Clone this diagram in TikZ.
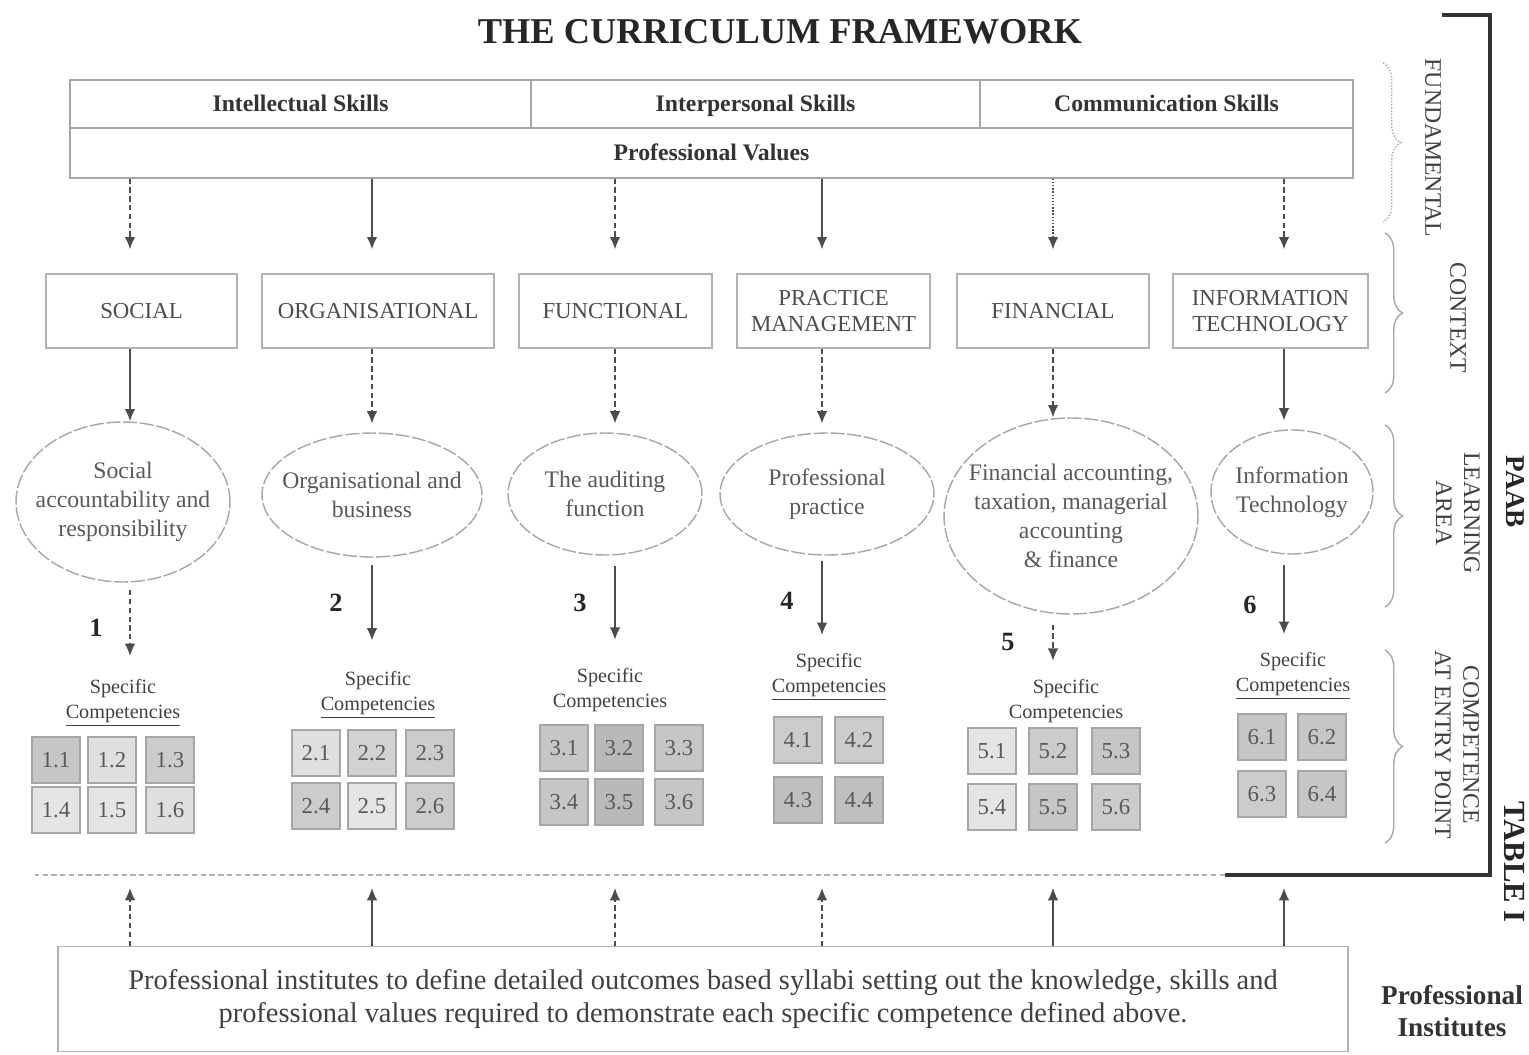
\documentclass[tikz,border=0pt]{standalone}
\usepackage{fontspec}
\setmainfont{Liberation Serif}
\usetikzlibrary{positioning,shapes.geometric,arrows.meta,decorations.pathreplacing}

\begin{document}
\begin{tikzpicture}[
    x=0.02cm, y=-0.02cm,
    >={Latex[length=7pt,width=6pt]},
    skill/.style={draw=gray!70, line width=0.8pt, minimum height=0.96cm, text height=2.2ex, text depth=0.4ex, text=black!80, font=\fontsize{13.5}{16}\selectfont\bfseries},
    ctx/.style={draw=gray!60, line width=0.8pt, minimum height=1.48cm, align=center, text=black!70, font=\fontsize{13}{15}\selectfont},
    area/.style={ellipse, draw=gray!70, line width=0.8pt, dash pattern=on 8pt off 1.5pt, inner sep=0pt},
    areatext/.style={align=center, text=black!65, font=\fontsize{13.5}{16.5}\selectfont},
    spec/.style={align=center, text=black!75, font=\fontsize{11.5}{14}\selectfont},
    comp/.style={draw=gray!70, line width=0.7pt, minimum width=0.96cm, minimum height=0.92cm, inner sep=0pt, text=black!65, font=\fontsize{13}{15}\selectfont},
    num/.style={text=black!85, font=\fontsize{15}{18}\selectfont\bfseries},
    arr/.style={->, draw=black!70, line width=0.8pt},
    side/.style={rotate=-90, align=center, text=black!75, font=\fontsize{13.5}{16}\selectfont},
    sidebrace/.style={draw=gray!70, line width=0.8pt, decorate, decoration={brace, amplitude=0.35cm}}
]
\useasboundingbox (0,0) rectangle (1529,1055);

% Titre
\node[text=black!85, font=\fontsize{20.7}{24}\selectfont\bfseries] (title) at (780,32) {THE CURRICULUM FRAMEWORK};

% Fundamental
\node[skill, minimum width=9.22cm] (intel) at (300.5,104) {Intellectual Skills};
\node[skill, minimum width=8.98cm] (inter) at (755.5,104) {Interpersonal Skills};
\node[skill, minimum width=7.46cm] (comm) at (1166.5,104) {Communication Skills};
\node[skill, minimum width=25.66cm, minimum height=1cm] (values) at (711.5,153) {Professional Values};

% Context
\node[ctx, minimum width=3.82cm] (social) at (141.5,311) {SOCIAL};
\node[ctx, minimum width=4.64cm] (org) at (378,311) {ORGANISATIONAL};
\node[ctx, minimum width=3.86cm] (func) at (615.5,311) {FUNCTIONAL};
\node[ctx, minimum width=3.86cm] (pm) at (833.5,311) {PRACTICE\\MANAGEMENT};
\node[ctx, minimum width=3.84cm] (fin) at (1053,311) {FINANCIAL};
\node[ctx, minimum width=3.9cm] (it) at (1270.5,311) {INFORMATION\\TECHNOLOGY};

% Learning areas
\node[area, minimum width=4.28cm, minimum height=3.2cm] (e1) at (123,502) {};
\node[area, minimum width=4.4cm, minimum height=2.48cm] (e2) at (372,495) {};
\node[area, minimum width=3.88cm, minimum height=2.44cm] (e3) at (605,494) {};
\node[area, minimum width=4.28cm, minimum height=2.44cm] (e4) at (827,494) {};
\node[area, minimum width=5.08cm, minimum height=3.92cm] (e5) at (1071,516) {};
\node[area, minimum width=3.24cm, minimum height=2.48cm] (e6) at (1292,492) {};

\node[areatext] (t1) at (e1) {Social\\accountability and\\responsibility};
\node[areatext] (t2) at (e2) {Organisational and\\business};
\node[areatext] (t3) at (e3) {The auditing\\function};
\node[areatext] (t4) at (e4) {Professional\\practice};
\node[areatext] (t5) at (e5) {Financial accounting,\\taxation, managerial\\accounting\\\& finance};
\node[areatext] (t6) at (e6) {Information\\Technology};

% Numeros
\node[num] (n1) at (96,628) {1};
\node[num] (n2) at (336,603) {2};
\node[num] (n3) at (580,603) {3};
\node[num] (n4) at (787,601) {4};
\node[num] (n5) at (1008,642) {5};
\node[num] (n6) at (1250,605) {6};

% Specific competencies
\node[spec] (sc1) at (123,703) {Specific\\\underline{Competencies}};
\node[spec] (sc2) at (378,695) {Specific\\\underline{Competencies}};
\node[spec] (sc3) at (610,690) {Specific\\Competencies};
\node[spec] (sc4) at (829,677) {Specific\\\underline{Competencies}};
\node[spec] (sc5) at (1066,701) {Specific\\Competencies};
\node[spec] (sc6) at (1293,676) {Specific\\\underline{Competencies}};

\node[comp, fill=gray!45] (s11) at (56,760) {1.1};
\node[comp, fill=gray!25] (s12) at (112,760) {1.2};
\node[comp, fill=gray!40] (s13) at (170,760) {1.3};
\node[comp, fill=gray!20] (s14) at (56,810) {1.4};
\node[comp, fill=gray!20] (s15) at (112,810) {1.5};
\node[comp, fill=gray!25] (s16) at (170,810) {1.6};

\node[comp, fill=gray!25] (s21) at (316,753) {2.1};
\node[comp, fill=gray!35] (s22) at (372,753) {2.2};
\node[comp, fill=gray!40] (s23) at (430,753) {2.3};
\node[comp, fill=gray!40] (s24) at (316,806) {2.4};
\node[comp, fill=gray!20] (s25) at (372,806) {2.5};
\node[comp, fill=gray!40] (s26) at (430,806) {2.6};

\node[comp, fill=gray!45] (s31) at (564,748) {3.1};
\node[comp, fill=gray!55] (s32) at (619,748) {3.2};
\node[comp, fill=gray!45] (s33) at (679,748) {3.3};
\node[comp, fill=gray!45] (s34) at (564,802) {3.4};
\node[comp, fill=gray!55] (s35) at (619,802) {3.5};
\node[comp, fill=gray!45] (s36) at (679,802) {3.6};

\node[comp, fill=gray!40] (s41) at (798,740) {4.1};
\node[comp, fill=gray!40] (s42) at (859,740) {4.2};
\node[comp, fill=gray!50] (s43) at (798,800) {4.3};
\node[comp, fill=gray!50] (s44) at (859,800) {4.4};

\node[comp, fill=gray!20] (s51) at (992,751) {5.1};
\node[comp, fill=gray!40] (s52) at (1053,751) {5.2};
\node[comp, fill=gray!45] (s53) at (1116,751) {5.3};
\node[comp, fill=gray!20] (s54) at (992,807) {5.4};
\node[comp, fill=gray!45] (s55) at (1053,807) {5.5};
\node[comp, fill=gray!40] (s56) at (1116,807) {5.6};

\node[comp, fill=gray!45] (s61) at (1262,737) {6.1};
\node[comp, fill=gray!45] (s62) at (1322,737) {6.2};
\node[comp, fill=gray!40] (s63) at (1262,794) {6.3};
\node[comp, fill=gray!45] (s64) at (1322,794) {6.4};

% Instituts
\node[draw=gray!60, line width=0.8pt, minimum width=25.8cm, minimum height=2.1cm, align=center, text=black!75,
      font=\fontsize{16.2}{19.3}\selectfont] (inst) at (703,999)
      {Professional institutes to define detailed outcomes based syllabi setting out the knowledge, skills and\\
       professional values required to demonstrate each specific competence defined above.};
\node[align=center, text=black!80, font=\fontsize{15.5}{18}\selectfont\bfseries] (pi) at (1452,1011) {Professional\\Institutes};

% Cadre PAAB
\coordinate (tl) at (1442,15);
\coordinate (tr) at (1490,15);
\coordinate (br) at (1490,875);
\coordinate (bm) at (1225,875);
\coordinate (bl) at (35,875);
\draw[line width=2pt, black!80] (tl) -- (tr) -- (br) -- (bm);
\draw[line width=1.2pt, gray!60, densely dashed] (bm) -- (bl);

% Colonnes
\coordinate (c1) at (130,0);
\coordinate (c2) at (372,0);
\coordinate (c3) at (615,0);
\coordinate (c4) at (822,0);
\coordinate (c5) at (1053,0);
\coordinate (c6) at (1284,0);

% Liens
\draw[arr, densely dashed, shorten >=0.48cm] (values.south -| c1) -- (social.north -| c1);
\draw[arr, shorten >=0.48cm] (values.south -| c2) -- (org.north -| c2);
\draw[arr, densely dashed, shorten >=0.48cm] (values.south -| c3) -- (func.north -| c3);
\draw[arr, shorten >=0.48cm] (values.south -| c4) -- (pm.north -| c4);
\draw[arr, densely dotted, shorten >=0.48cm] (values.south -| c5) -- (fin.north -| c5);
\draw[arr, densely dashed, shorten >=0.48cm] (values.south -| c6) -- (it.north -| c6);

\draw[arr] (social.south -| c1) -- (e1.north -| c1);
\draw[arr, densely dashed, shorten >=5pt] (org.south -| c2) -- (e2.north -| c2);
\draw[arr, densely dashed, shorten >=5pt] (func.south -| c3) -- (e3.north -| c3);
\draw[arr, densely dashed, shorten >=5pt] (pm.south -| c4) -- (e4.north -| c4);
\draw[arr, densely dashed] (fin.south -| c5) -- (e5.north -| c5);
\draw[arr, shorten >=5pt] (it.south -| c6) -- (e6.north -| c6);

\draw[arr, densely dashed, shorten <=0.15cm, shorten >=0.35cm] (e1.south -| c1) -- (sc1.north -| c1);
\draw[arr, shorten <=0.15cm, shorten >=0.5cm] (e2.south -| c2) -- (sc2.north -| c2);
\draw[arr, shorten <=0.2cm, shorten >=0.45cm] (e3.south -| c3) -- (sc3.north -| c3);
\draw[arr, shorten <=0.1cm, shorten >=0.25cm] (e4.south -| c4) -- (sc4.north -| c4);
\draw[arr, densely dashed, shorten <=0.2cm, shorten >=0.25cm] (e5.south -| c5) -- (sc5.north -| c5);
\draw[arr, shorten <=0.2cm, shorten >=0.25cm] (e6.south -| c6) -- (sc6.north -| c6);

\draw[arr, densely dashed, shorten >=0.26cm] (inst.north -| c1) -- (c1 |- bl);
\draw[arr, shorten >=0.26cm] (inst.north -| c2) -- (c2 |- bl);
\draw[arr, densely dashed, shorten >=0.26cm] (inst.north -| c3) -- (c3 |- bl);
\draw[arr, densely dashed, shorten >=0.26cm] (inst.north -| c4) -- (c4 |- bl);
\draw[arr, shorten >=0.26cm] (inst.north -| c5) -- (c5 |- bl);
\draw[arr, shorten >=0.26cm] (inst.north -| c6) -- (c6 |- bl);

% Accolades
\draw[sidebrace, densely dotted] (1383,63) -- (1383,222);
\draw[sidebrace] (1385,233) -- (1385,393);
\draw[sidebrace] (1385,425) -- (1385,607);
\draw[sidebrace] (1385,650) -- (1385,843);

\node[side] (fund) at (1433,148) {FUNDAMENTAL};
\node[side] (context) at (1458,318) {CONTEXT};
\node[side] (learn) at (1458,513) {LEARNING\\AREA};
\node[side] (entry) at (1457,745) {COMPETENCE\\AT ENTRY POINT};
\node[side, text=black!85, font=\fontsize{15.5}{18}\selectfont\bfseries] (paab) at (1515,492) {PAAB};
\node[side, text=black!85, font=\fontsize{17.5}{20}\selectfont\bfseries] (table) at (1515,862) {TABLE I};

\end{tikzpicture}
\end{document}
